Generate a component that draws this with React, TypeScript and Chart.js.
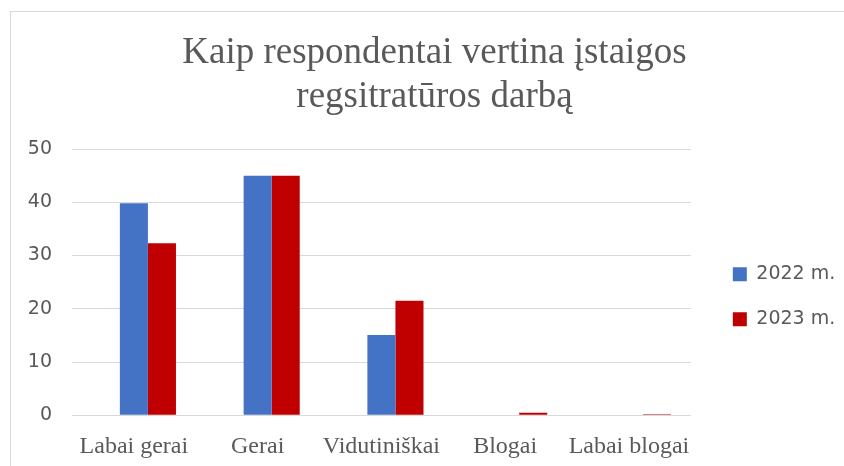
import React, { useEffect, useRef } from 'react';
import { Chart, registerables } from 'chart.js';

Chart.register(...registerables);

const categories = ['Labai gerai', 'Gerai', 'Vidutiniškai', 'Blogai', 'Labai blogai'];
const series2022 = [39.8, 45.0, 15.1, 0, 0];
const series2023 = [32.3, 45.0, 21.5, 0.5, 0.2];
const emptySeries = [null, null, null, null, null];
const seriesLabels = ['2022 m.', '2023 m.'];
const yTicks = [0, 10, 20, 30, 40, 50];
const titleLines = ['Kaip respondentai vertina įstaigos', 'regsitratūros darbą'];

const TEXT = '#595959';
const GRID = '#d9d9d9';

export default function App() {
  const ref = useRef<HTMLCanvasElement | null>(null);

  useEffect(() => {
    if (!ref.current) return;
    const chart = new Chart(ref.current, {
      type: 'bar',
      data: {
        labels: categories,
        datasets: [
          { label: '', data: emptySeries as any, backgroundColor: 'rgba(0,0,0,0)' },
          { label: seriesLabels[0], data: series2022, backgroundColor: '#4472C4' },
          { label: seriesLabels[1], data: series2023, backgroundColor: '#C00000' },
        ],
      },
      options: {
        responsive: false,
        animation: false,
        devicePixelRatio: 1,
        layout: { autoPadding: false, padding: { left: 26, right: 1, top: 0, bottom: 0 } },
        datasets: { bar: { categoryPercentage: 0.68, barPercentage: 1 } },
        plugins: {
          title: {
            display: true,
            text: titleLines,
            color: TEXT,
            font: { family: '"Liberation Serif", "Times New Roman", serif', size: 37, weight: 'normal', lineHeight: 1.19 },
            padding: { top: 31, bottom: 30 },
          },
          legend: {
            position: 'right',
            align: 'center',
            fullSize: false,
            title: { display: true, text: '', padding: { top: 28, bottom: 0 }, font: { size: 1 } },
            labels: {
              boxWidth: 14,
              boxHeight: 14,
              padding: 26,
              color: TEXT,
              font: { family: '"DejaVu Sans", sans-serif', size: 19 },
              filter: (item: any) => item.datasetIndex !== 0,
            },
          },
          tooltip: { enabled: false },
        },
        scales: {
          x: {
            grid: { display: false, drawTicks: false },
            border: { display: false },
            ticks: {
              color: TEXT,
              font: { family: '"Liberation Serif", "Times New Roman", serif', size: 24 },
              padding: 17.3,
              maxRotation: 0,
              minRotation: 0,
              autoSkip: false,
            },
            afterFit: (s: any) => {
              s.height = 50.7;
            },
          },
          y: {
            min: 0,
            max: 50,
            afterBuildTicks: (s: any) => {
              s.ticks = yTicks.map((v) => ({ value: v }));
            },
            ticks: {
              color: TEXT,
              font: { family: '"DejaVu Sans", sans-serif', size: 19 },
              padding: 20,
            },
            grid: { color: GRID, drawTicks: false, lineWidth: 1 },
            border: { display: false },
            afterFit: (s: any) => {
              s.width = 46;
            },
          },
          gap: {
            type: 'linear',
            position: 'right',
            display: true,
            grid: { display: false, drawTicks: false },
            border: { display: false },
            ticks: { display: false },
            afterFit: (s: any) => {
              s.width = 16;
            },
          },
        },
      } as any,
    });
    return () => chart.destroy();
  }, []);

  return (
    <div style={{ position: 'fixed', left: 0, top: 0, width: 844, height: 466, overflow: 'hidden', background: '#fff' }}>
      <div
        style={{
          position: 'absolute',
          left: 10,
          top: 11,
          width: 1000,
          height: 1000,
          borderTop: '1px solid #d9d9d9',
          borderLeft: '1px solid #d9d9d9',
        }}
      />
      <canvas ref={ref} width={844} height={466} style={{ position: 'absolute', left: 0, top: 0 }} />
    </div>
  );
}
